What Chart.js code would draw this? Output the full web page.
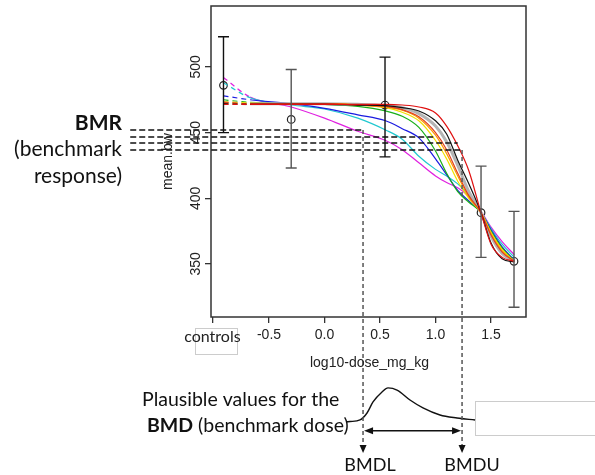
<!DOCTYPE html>
<html>
<head>
<meta charset="utf-8">
<script src="https://cdn.jsdelivr.net/npm/chart.js@4.4.1/dist/chart.umd.min.js"></script>
<style>
  html, body { margin: 0; padding: 0; background: #fff; }
  #wrap { width: 595px; height: 475px; }
</style>
</head>
<body>
<div id="wrap"><canvas id="chart" width="595" height="475"></canvas></div>
<script>
// ---------------- DATA ----------------
// log10 dose grid for the fitted curves (first point = controls)
const doseX = [-0.91, -0.67, -0.3, 0, 0.3, 0.55, 0.7, 0.85, 1.0, 1.1, 1.2, 1.3, 1.41, 1.5, 1.6, 1.71];

const fitMagenta = [492, 477, 469.5, 461, 451, 444, 437, 427, 417, 412, 408, 401.5, 390, 378, 367, 357];
const fitCyan    = [488, 476.5, 471, 468, 461, 452, 445, 432, 422, 417, 411, 402, 389.5, 377, 365, 355];
const fitBlue    = [478, 475, 472, 468.5, 463.5, 459, 453, 446, 430, 418, 406, 398, 389, 376, 363, 353];
const fitGreen   = [475, 473, 472, 471.5, 470, 466.5, 462.5, 454, 436, 419, 405, 397, 389, 375, 362, 352.5];
const fitYellow  = [473.5, 472.5, 472, 472, 471, 469, 465.5, 459, 444, 430, 413, 400, 389, 374, 361, 352];
const fitOrange  = [473, 472, 472, 472, 471, 469.5, 467, 461, 448, 434, 417, 401, 389, 373, 360, 352];
const fitBrown   = [473, 472, 472, 472, 471, 470, 467.5, 462, 450, 437, 419, 402, 389, 372, 359, 352];
const fitGray    = [473, 472, 472, 472, 471.5, 470.5, 469, 464.5, 455, 443, 425, 405, 389, 371, 358, 352];
const fitBlack   = [472, 471.5, 471.5, 471.5, 471, 470.5, 469, 466.5, 459, 449, 429, 411, 389, 366, 354, 351.5];
const fitRed     = [471.5, 471.5, 471.5, 471.5, 471.5, 471.5, 471, 469.5, 465, 455, 440, 421, 389, 365, 355, 352];

// observed group means with error bars
const obsX    = [-0.91, -0.3, 0.545, 1.41, 1.707];
const obsMean = [486, 460, 471, 389, 352];
const obsLow  = [450, 423, 431.5, 355, 317];
const obsHigh = [523, 498, 507.5, 424.5, 390];

// BMR levels and where each one meets the curves
const bmrLevels = [452, 446.7, 442, 436.8];
const bmrEnds   = [0.347, 1.0, 1.2, 1.239];
const bmrStart  = -1.75;
const bmdl = 0.347;
const bmdu = 1.239;
const arrowTipY = 206;
const spanArrowY = 223;

// plausible BMD distribution (sketch under the axis)
const densX = [0.2, 0.23, 0.32, 0.383, 0.437, 0.518, 0.572, 0.653, 0.77, 0.887, 1.04, 1.194, 1.356];
const densY = [229.8, 230, 231.2, 236.5, 244.9, 252.5, 255.6, 254, 246.4, 240.4, 235, 232.7, 231.2];

const xTicks = [-1.01, -0.5, 0, 0.5, 1.0, 1.5];
const xTickLabels = ["controls", "-0.5", "0.0", "0.5", "1.0", "1.5"];
const yTicks = [350, 400, 450, 500];

// ---------------- DATASETS ----------------
const R_FONT = "'Liberation Sans', Arial, sans-serif";
const C_FONT = "Lato, 'Open Sans', sans-serif";

function fit(values, color, width) {
    return {
        data: doseX.map((x, i) => ({ x: x, y: values[i] })),
        borderColor: color,
        borderWidth: width || 1.2,
        pointRadius: 0,
        cubicInterpolationMode: "monotone",
        segment: {
            borderDash: c => c.p0DataIndex === 0 ? [5, 4] : undefined
        }
    };
}

// Chart.js paints dataset 0 last, so the top-most curve goes first
const datasets = [
    fit(fitRed, "#e01010"),
    fit(fitBlack, "#111111"),
    fit(fitBrown, "#e04020"),
    fit(fitOrange, "#ff9900"),
    fit(fitYellow, "#f0e000"),
    fit(fitGray, "#b4b4b4", 3),
    fit(fitGreen, "#18b018"),
    fit(fitBlue, "#1a1ae0"),
    fit(fitCyan, "#20c8d0"),
    fit(fitMagenta, "#e020e0"),
    {
        data: obsX.map((x, i) => ({ x: x, y: obsMean[i] })),
        showLine: false,
        pointRadius: 3.8,
        pointBorderWidth: 1.2,
        pointBorderColor: "#222",
        pointBackgroundColor: "rgba(0,0,0,0)"
    },
    {
        data: densX.map((x, i) => ({ x: x, y: densY[i] })),
        borderColor: "#111",
        borderWidth: 1.4,
        pointRadius: 0,
        clip: false,
        cubicInterpolationMode: "monotone"
    }
];

// ---------------- DRAWING HELPERS ----------------
function dashed(ctx, x1, y1, x2, y2, color, dash) {
    ctx.save();
    ctx.strokeStyle = color;
    ctx.lineWidth = 1.5;
    ctx.setLineDash(dash);
    ctx.beginPath();
    ctx.moveTo(x1, y1);
    ctx.lineTo(x2, y2);
    ctx.stroke();
    ctx.restore();
}

function arrowHead(ctx, x, y, dir) {
    // dir: "down", "left", "right"
    ctx.beginPath();
    if (dir === "down") {
        ctx.moveTo(x, y); ctx.lineTo(x - 3.5, y - 8); ctx.lineTo(x + 3.5, y - 8);
    } else if (dir === "left") {
        ctx.moveTo(x, y); ctx.lineTo(x + 9, y - 3.5); ctx.lineTo(x + 9, y + 3.5);
    } else {
        ctx.moveTo(x, y); ctx.lineTo(x - 9, y - 3.5); ctx.lineTo(x - 9, y + 3.5);
    }
    ctx.closePath();
    ctx.fill();
}

const overlay = {
    id: "overlay",
    beforeDraw(chart) {
        const ctx = chart.ctx;
        ctx.save();
        ctx.fillStyle = "#fff";
        ctx.fillRect(0, 0, chart.width, chart.height);
        // leftover text-box outlines from the slide
        ctx.strokeStyle = "#cccccc";
        ctx.lineWidth = 1;
        ctx.strokeRect(195.5, 328.5, 42, 26);
        ctx.strokeRect(475.5, 401.5, 130, 34);
        ctx.restore();
    },
    afterDatasetsDraw(chart) {
        const ctx = chart.ctx;
        const xs = chart.scales.x, ys = chart.scales.y;
        const a = chart.chartArea;
        const px = v => xs.getPixelForValue(v);
        const py = v => ys.getPixelForValue(v);

        // error bars
        ctx.save();
        ctx.lineWidth = 1.4;
        obsX.forEach((x, i) => {
            ctx.strokeStyle = (i === 0 || i === 2) ? "#111" : "#555";
            const cx = px(x);
            ctx.beginPath();
            ctx.moveTo(cx, py(obsLow[i])); ctx.lineTo(cx, py(obsHigh[i]));
            ctx.moveTo(cx - 5.5, py(obsLow[i])); ctx.lineTo(cx + 5.5, py(obsLow[i]));
            ctx.moveTo(cx - 5.5, py(obsHigh[i])); ctx.lineTo(cx + 5.5, py(obsHigh[i]));
            ctx.stroke();
        });
        ctx.restore();

        // plot box
        ctx.save();
        ctx.strokeStyle = "#333";
        ctx.lineWidth = 1.5;
        ctx.strokeRect(a.left, a.top, a.right - a.left, a.bottom - a.top);
        ctx.restore();

        // BMR lines
        bmrLevels.forEach((lvl, i) => {
            dashed(ctx, px(bmrStart), py(lvl), px(bmrEnds[i]), py(lvl), "#111", [6, 3]);
        });
        // BMDL / BMDU drop lines
        dashed(ctx, px(bmdl), py(bmrLevels[0]), px(bmdl), py(arrowTipY) - 6, "#555", [4, 3]);
        dashed(ctx, px(bmdu), py(bmrLevels[3]), px(bmdu), py(arrowTipY) - 6, "#555", [4, 3]);
        ctx.save();
        ctx.fillStyle = "#111";
        arrowHead(ctx, px(bmdl), py(arrowTipY), "down");
        arrowHead(ctx, px(bmdu), py(arrowTipY), "down");
        // span arrow
        ctx.strokeStyle = "#111";
        ctx.lineWidth = 1.4;
        ctx.beginPath();
        ctx.moveTo(px(bmdl) + 4, py(spanArrowY));
        ctx.lineTo(px(bmdu) - 4, py(spanArrowY));
        ctx.stroke();
        arrowHead(ctx, px(bmdl) + 1, py(spanArrowY), "left");
        arrowHead(ctx, px(bmdu) - 1, py(spanArrowY), "right");
        ctx.restore();

        // axis texts (R style)
        ctx.save();
        ctx.fillStyle = "#222";
        ctx.font = "14px " + R_FONT;
        ctx.textAlign = "center";
        ctx.textBaseline = "middle";
        yTicks.forEach(v => {
            ctx.save();
            ctx.translate(196, py(v));
            ctx.rotate(-Math.PI / 2);
            ctx.fillText(String(v), 0, 0);
            ctx.restore();
        });
        ctx.save();
        ctx.translate(168, (a.top + a.bottom) / 2);
        ctx.rotate(-Math.PI / 2);
        ctx.fillText("mean.bw", 0, 0);
        ctx.restore();
        ctx.fillText("log10-dose_mg_kg", (a.left + a.right) / 2 + 1, 363);
        ctx.restore();

        // annotations
        ctx.save();
        ctx.fillStyle = "#111";
        ctx.textBaseline = "middle";
        ctx.textAlign = "right";
        ctx.font = "bold 21px " + C_FONT;
        ctx.fillText("BMR", 122, 123);
        ctx.font = "21px " + C_FONT;
        ctx.fillText("(benchmark", 122, 149);
        ctx.fillText("response)", 122, 176);

        ctx.textAlign = "left";
        ctx.font = "19.5px " + C_FONT;
        ctx.fillText("Plausible values for the", 142, 400);
        ctx.font = "bold 19.5px " + C_FONT;
        ctx.fillText("BMD", 147, 426);
        const w = ctx.measureText("BMD").width;
        ctx.font = "19.5px " + C_FONT;
        ctx.fillText(" (benchmark dose)", 147 + w, 426);

        ctx.textAlign = "center";
        ctx.font = "18px " + C_FONT;
        ctx.fillText("BMDL", 370, 465);
        ctx.fillText("BMDU", 472, 465);
        ctx.restore();
    }
};

// ---------------- CHART ----------------
const chart = new Chart(document.getElementById("chart").getContext("2d"), {
    type: "line",
    data: { datasets: datasets },
    options: {
        responsive: false,
        animation: false,
        layout: { padding: { left: 171, right: 69, top: 6, bottom: 118 } },
        plugins: { legend: { display: false }, tooltip: { enabled: false } },
        scales: {
            x: {
                type: "linear",
                min: -1.0225,
                max: 1.815,
                afterBuildTicks: s => { s.ticks = xTicks.map(v => ({ value: v })); },
                afterFit: s => { s.height = 40; },
                border: { display: false },
                grid: { drawOnChartArea: false, tickLength: 6, color: "#333", lineWidth: 1.3 },
                ticks: {
                    autoSkip: false,
                    maxRotation: 0,
                    padding: 4,
                    color: "#222",
                    font: c => c.index === 0 ? { family: C_FONT, size: 16 } : { family: R_FONT, size: 14 },
                    callback: (v, i) => xTickLabels[i]
                }
            },
            y: {
                type: "linear",
                min: 309.6,
                max: 546.4,
                afterBuildTicks: s => { s.ticks = yTicks.map(v => ({ value: v })); },
                afterFit: s => { s.width = 40; },
                border: { display: false },
                grid: { drawOnChartArea: false, tickLength: 6, color: "#333", lineWidth: 1.3 },
                ticks: { display: false }
            }
        }
    },
    plugins: [overlay]
});
</script>
</body>
</html>
